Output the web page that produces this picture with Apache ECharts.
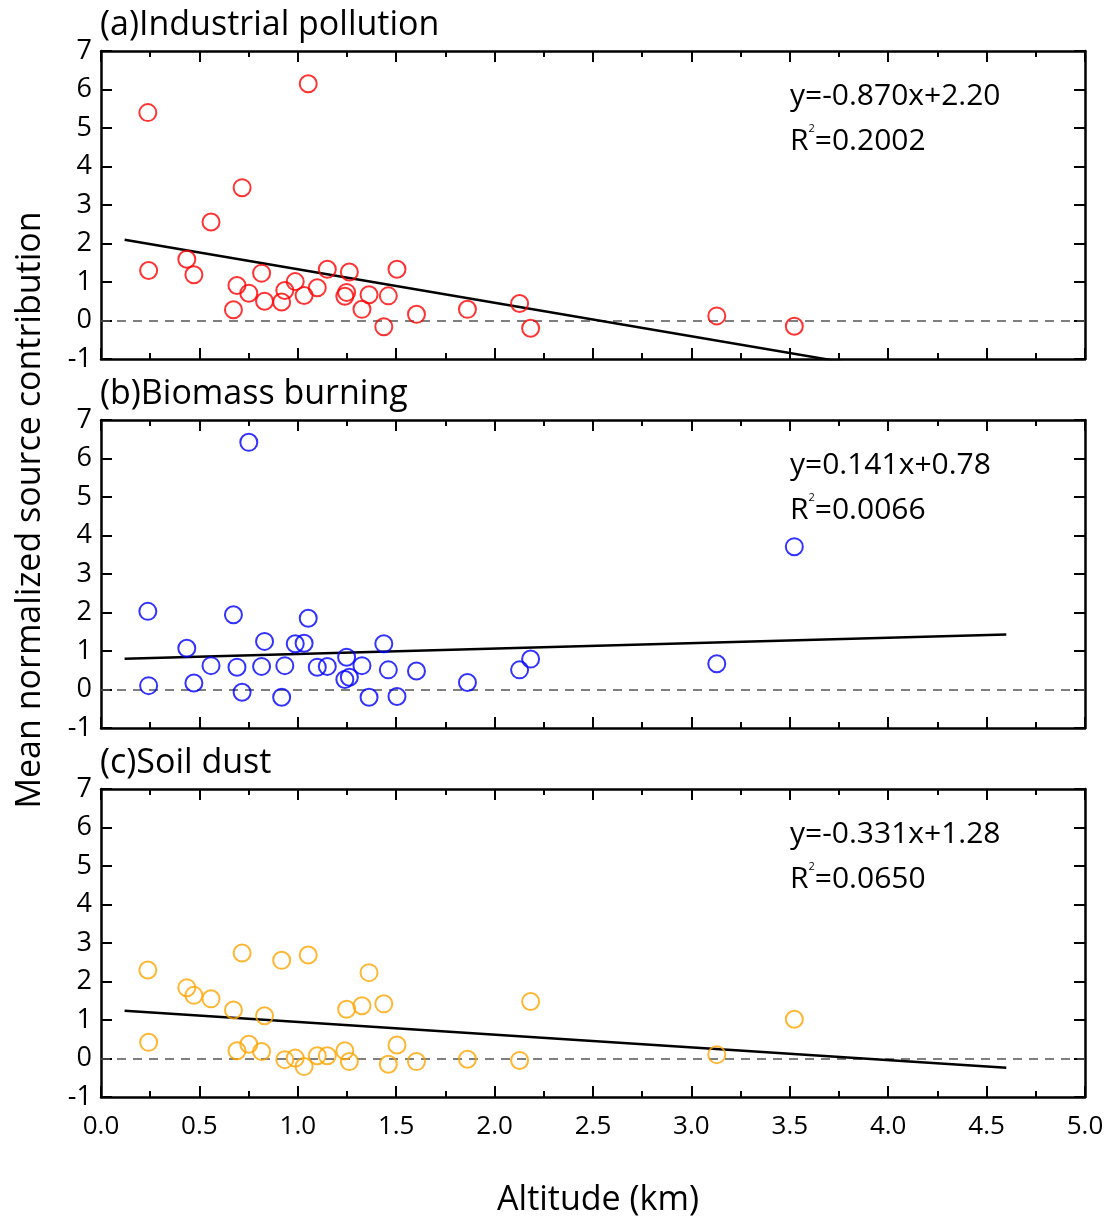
<!DOCTYPE html>
<html>
<head>
<meta charset="utf-8">
<script src="https://cdn.jsdelivr.net/npm/echarts@6/dist/echarts.min.js"></script>
<style>
html,body{margin:0;padding:0;background:#fff;}
#chart{width:1112px;height:1225px;}
</style>
</head>
<body>
<div id="chart"></div>
<script>
// ---- data ----
const altitude = [0.238, 0.242, 0.436, 0.472, 0.559, 0.673, 0.691, 0.717, 0.751, 0.816, 0.831,
  0.918, 0.934, 0.987, 1.032, 1.053, 1.099, 1.150, 1.239, 1.248, 1.262, 1.326, 1.362, 1.437,
  1.460, 1.504, 1.603, 1.862, 2.127, 2.183, 3.129, 3.523];
const industrial = [5.40, 1.30, 1.59, 1.19, 2.56, 0.28, 0.91, 3.45, 0.71, 1.23, 0.50,
  0.48, 0.78, 1.01, 0.65, 6.15, 0.85, 1.33, 0.63, 0.73, 1.26, 0.29, 0.67, -0.16,
  0.64, 1.33, 0.16, 0.29, 0.44, -0.20, 0.12, -0.15];
const biomass = [2.03, 0.10, 1.07, 0.17, 0.62, 1.94, 0.58, -0.07, 6.42, 0.60, 1.25,
  -0.20, 0.62, 1.19, 1.20, 1.85, 0.58, 0.60, 0.26, 0.84, 0.32, 0.62, -0.20, 1.19,
  0.51, -0.18, 0.48, 0.18, 0.51, 0.79, 0.67, 3.71];
const soilDust = [2.30, 0.42, 1.84, 1.64, 1.55, 1.26, 0.20, 2.74, 0.37, 0.18, 1.11,
  2.55, -0.03, 0.01, -0.21, 2.69, 0.07, 0.07, 0.20, 1.28, -0.08, 1.37, 2.23, 1.42,
  -0.15, 0.35, -0.08, -0.02, -0.05, 1.48, 0.10, 1.02];
const panelValues = [industrial, biomass, soilDust];
const panelTitles = ['(a)Industrial pollution', '(b)Biomass burning', '(c)Soil dust'];
const panelColors = ['#ff0000', '#0000ff', '#ffa500'];
const slopes = [-0.870, 0.141, -0.331];
const intercepts = [2.20, 0.78, 1.28];
const slopeLabels = ['-0.870', '0.141', '-0.331'];
const interceptLabels = ['2.20', '0.78', '1.28'];
const r2Labels = ['0.2002', '0.0066', '0.0650'];
const fitRange = [0.12, 4.6];
const xMin = 0, xMax = 5, xStep = 0.5;
const yMin = -1, yMax = 7, yStep = 1;
const xName = 'Altitude (km)';
const yName = 'Mean normalized source contribution';

// ---- layout ----
const FONT = '"Open Sans", "Noto Sans", sans-serif';
const gridLeft = 101, gridWidth = 984, gridHeight = 308;
const gridTops = [51, 420, 789];

const grids = [], xAxes = [], yAxes = [], series = [], titles = [];
gridTops.forEach((top, i) => {
  grids.push({left: gridLeft, top: top, width: gridWidth, height: gridHeight});
  const axisLine = {onZero: false, lineStyle: {color: '#000', width: 2.5}};
  const tick = {inside: true, length: 11, lineStyle: {color: '#000', width: 2}};
  ['bottom', 'top'].forEach(pos => {
    xAxes.push({
      gridIndex: i, type: 'value', position: pos, min: xMin, max: xMax, interval: xStep,
      axisLine: axisLine, axisTick: tick,
      minorTick: {show: true, splitNumber: 2, length: 6, lineStyle: {color: '#000', width: 2}},
      splitLine: {show: false}, minorSplitLine: {show: false},
      axisLabel: {show: pos === 'bottom' && i === 2, margin: 17, color: '#000', fontSize: 26,
        fontFamily: FONT, formatter: v => v.toFixed(1)}
    });
  });
  ['left', 'right'].forEach(pos => {
    yAxes.push({
      gridIndex: i, type: 'value', position: pos, min: yMin, max: yMax, interval: yStep,
      axisLine: axisLine, axisTick: tick, splitLine: {show: false},
      axisLabel: {show: pos === 'left', margin: 9, color: '#000', fontSize: 27, fontFamily: FONT}
    });
  });
  const vals = panelValues[i];
  series.push({
    type: 'scatter', xAxisIndex: 2 * i, yAxisIndex: 2 * i,
    data: altitude.map((x, k) => [x, vals[k]]),
    symbol: 'circle', symbolSize: 17,
    itemStyle: {color: 'rgba(0,0,0,0)', borderColor: panelColors[i], borderWidth: 2},
    z: 3,
    markLine: {
      silent: true, symbol: 'none', label: {show: false},
      lineStyle: {color: '#555', width: 1.5, type: [9, 7]},
      data: [{yAxis: 0}], z: 1
    }
  });
  series.push({
    type: 'line', xAxisIndex: 2 * i, yAxisIndex: 2 * i,
    data: fitRange.map(x => [x, intercepts[i] + slopes[i] * x]),
    symbol: 'none', lineStyle: {color: '#000', width: 2.5}, clip: true, z: 2
  });
  titles.push({
    text: panelTitles[i], left: 100, top: top - 43, padding: 0,
    textStyle: {fontSize: 34, fontWeight: 'normal', color: '#000', fontFamily: FONT}
  });
  const sign = interceptLabels[i].startsWith('-') ? '' : '+';
  titles.push({
    text: 'y=' + slopeLabels[i] + 'x' + sign + interceptLabels[i], left: 790, top: top + 30, padding: 0,
    textStyle: {fontSize: 30, fontWeight: 'normal', color: '#000', fontFamily: FONT}
  });
  titles.push({
    text: '{n|R}{s|2}{n|=' + r2Labels[i] + '}', left: 790, top: top + 72, padding: 0,
    textStyle: {
      fontSize: 30, fontWeight: 'normal', color: '#000', fontFamily: FONT,
      rich: {
        n: {fontSize: 30, fontFamily: FONT, color: '#000', lineHeight: 36},
        s: {fontSize: 11, fontFamily: FONT, color: '#000', verticalAlign: 'top', lineHeight: 36, padding: [0, 0, 14, 0]}
      }
    }
  });
});

const chart = echarts.init(document.getElementById('chart'), null, {renderer: 'canvas'});
chart.setOption({
  backgroundColor: '#fff',
  animation: false,
  title: titles,
  grid: grids,
  xAxis: xAxes,
  yAxis: yAxes,
  series: series,
  graphic: [
    {type: 'text', x: 30, y: 510, rotation: Math.PI / 2,
      style: {text: yName, fontSize: 34, fontFamily: FONT, fill: '#000', align: 'center', verticalAlign: 'middle'}},
    {type: 'text', x: 598, y: 1200,
      style: {text: xName, fontSize: 34, fontFamily: FONT, fill: '#000', align: 'center', verticalAlign: 'middle'}}
  ]
});
</script>
</body>
</html>
